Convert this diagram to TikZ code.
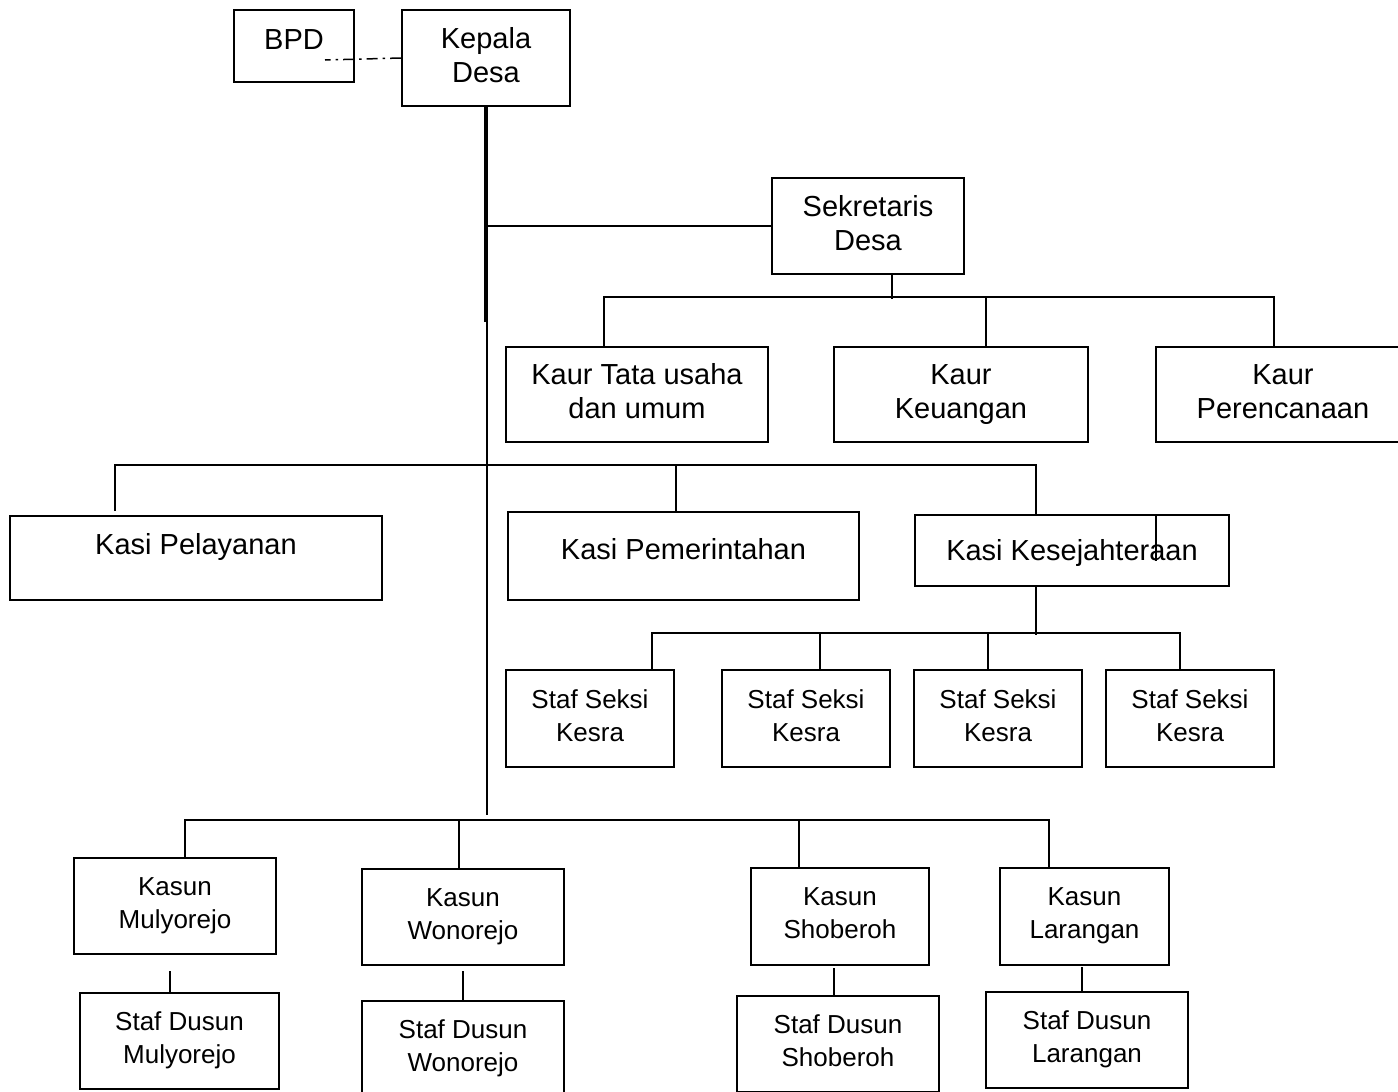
\documentclass[tikz,border=0pt]{standalone}
\usepackage{fontspec}
\setmainfont{Liberation Sans}
\begin{document}
\begin{tikzpicture}[
    x=1pt, y=-1pt,
    orgBox/.style={rectangle, draw=black, line width=1.6pt, inner sep=0pt, align=center, text depth=6.5pt, font=\fontsize{29}{34}\selectfont},
    orgSmallBox/.style={orgBox, text depth=6pt, font=\fontsize{26}{33}\selectfont},
    orgLine/.style={line width=1.5pt, draw=black},
    orgTrunk/.style={line width=3.5pt, draw=black}
]
\useasboundingbox (0,0) rectangle (1398,1092);
\clip (0,0) rectangle (1398,1092);

% top: kepala desa and BPD
\node[orgBox, minimum width=120pt, minimum height=72pt, text depth=12pt] (bpd) at (294,46) {BPD};
\node[orgBox, minimum width=168pt, minimum height=96pt] (kades) at (486,58) {Kepala\\Desa};
\coordinate (bpdEnd) at (325,60);
\draw[orgLine, dash pattern=on 11pt off 5pt on 2.5pt off 5pt] (kades.west) -- (bpdEnd);

% main trunk
\coordinate (trunkEnd) at (487,815);
\coordinate (trunkThick) at (486,322);
\draw[orgLine] ([xshift=1pt]kades.south) -- (trunkEnd);
\draw[orgTrunk] (kades.south) -- (trunkThick);

% sekretaris and kaur
\node[orgBox, minimum width=192pt, minimum height=96pt] (sekdes) at (868,226) {Sekretaris\\Desa};
\draw[orgLine] (kades.south |- sekdes.west) -- (sekdes.west);

\node[orgBox, minimum width=262pt, minimum height=95pt] (kaurTU) at (637,394.5) {Kaur Tata usaha\\dan umum};
\node[orgBox, minimum width=254pt, minimum height=95pt] (kaurKeu) at (961,394.5) {Kaur\\Keuangan};
\node[orgBox, minimum width=254pt, minimum height=95pt] (kaurRen) at (1283,394.5) {Kaur\\Perencanaan};
\draw[orgLine] ([xshift=24pt]sekdes.south) -- ++(0,24);
\draw[orgLine] ([xshift=-33pt]kaurTU.north) -- ++(0,-49) -| ([xshift=-9pt]kaurRen.north);
\draw[orgLine] ([xshift=25pt]kaurKeu.north) -- ++(0,-49);

% kasi
\node[orgBox, minimum width=372pt, minimum height=84pt, text depth=28pt] (kasiPel) at (196,558) {Kasi Pelayanan};
\node[orgBox, minimum width=351pt, minimum height=88pt, text depth=14pt] (kasiPem) at (683.5,556) {Kasi Pemerintahan};
\node[orgBox, minimum width=314pt, minimum height=71pt, text height=27pt] (kasiKes) at (1072,550.5) {Kasi Kesejahteraan};
\draw[orgLine] ([xshift=-81pt, yshift=4pt]kasiPel.north) -- ++(0,-46) -| ([xshift=-36pt]kasiKes.north);
\draw[orgLine] ([xshift=-7.5pt]kasiPem.north) -- ++(0,-46);
\draw[orgLine] ([xshift=84pt]kasiKes.north) -- ++(0,47);

% staf seksi kesra
\node[orgSmallBox, minimum width=168pt, minimum height=97pt] (kesra1) at (590,718.5) {Staf Seksi\\Kesra};
\node[orgSmallBox, minimum width=168pt, minimum height=97pt] (kesra2) at (806,718.5) {Staf Seksi\\Kesra};
\node[orgSmallBox, minimum width=168pt, minimum height=97pt] (kesra3) at (998,718.5) {Staf Seksi\\Kesra};
\node[orgSmallBox, minimum width=168pt, minimum height=97pt] (kesra4) at (1190,718.5) {Staf Seksi\\Kesra};
\draw[orgLine] ([xshift=-36pt]kasiKes.south) -- ++(0,48);
\draw[orgLine] ([xshift=62pt]kesra1.north) -- ++(0,-36) -| ([xshift=-10pt]kesra4.north);
\draw[orgLine] ([xshift=14pt]kesra2.north) -- ++(0,-36);
\draw[orgLine] ([xshift=-10pt]kesra3.north) -- ++(0,-36);

% kasun
\node[orgSmallBox, minimum width=202pt, minimum height=96pt] (kasun1) at (175,906) {Kasun\\Mulyorejo};
\node[orgSmallBox, minimum width=202pt, minimum height=96pt] (kasun2) at (463,917) {Kasun\\Wonorejo};
\node[orgSmallBox, minimum width=178pt, minimum height=97pt] (kasun3) at (840,916.5) {Kasun\\Shoberoh};
\node[orgSmallBox, minimum width=169pt, minimum height=97pt] (kasun4) at (1084.5,916.5) {Kasun\\Larangan};
\draw[orgLine] ([xshift=10pt]kasun1.north) -- ++(0,-37) -| ([xshift=-35.5pt]kasun4.north);
\draw[orgLine] ([xshift=-4pt]kasun2.north) -- ++(0,-48);
\draw[orgLine] ([xshift=-41pt]kasun3.north) -- ++(0,-47);

% staf dusun
\node[orgSmallBox, minimum width=199pt, minimum height=96pt] (dusun1) at (179.5,1041) {Staf Dusun\\Mulyorejo};
\node[orgSmallBox, minimum width=202pt, minimum height=96pt] (dusun2) at (463,1049) {Staf Dusun\\Wonorejo};
\node[orgSmallBox, minimum width=202pt, minimum height=96pt] (dusun3) at (838,1044) {Staf Dusun\\Shoberoh};
\node[orgSmallBox, minimum width=202pt, minimum height=96pt] (dusun4) at (1087,1040) {Staf Dusun\\Larangan};
\draw[orgLine] ([xshift=-9.5pt]dusun1.north) -- ++(0,-21);
\draw[orgLine] (dusun2.north) -- ++(0,-29);
\draw[orgLine] ([xshift=-4pt]dusun3.north) -- ++(0,-27);
\draw[orgLine] ([xshift=-5pt]dusun4.north) -- ++(0,-24);
\end{tikzpicture}
\end{document}
